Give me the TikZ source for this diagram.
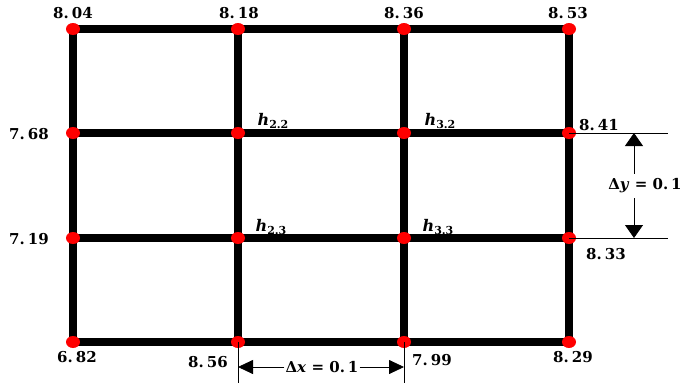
\documentclass[tikz,border=0pt]{standalone}
\usepackage{fontspec}
\setmainfont{DejaVu Serif}
\usetikzlibrary{arrows.meta,shapes.geometric}
\tikzset{
  dot/.style={ellipse,fill=red,minimum width=14pt,minimum height=12pt,inner sep=0pt},
  grid/.style={line width=8pt},
  thin/.style={line width=0.8pt},
  lbl/.style={font=\fontsize{15}{17}\selectfont\bfseries,inner sep=1pt},
  hl/.style={font=\fontsize{16}{18}\selectfont\bfseries,inner sep=1pt},
  dimv/.style={thin,-{Triangle[length=13pt,width=18pt]}},
  dimh/.style={thin,-{Triangle[length=15pt,width=14pt]}},
}
\newcommand{\hsub}[1]{\textit{h}\raisebox{-3pt}{\fontsize{11}{12}\selectfont #1}}
\newcommand{\numv}[2]{#1.\hspace{3pt}#2}
\begin{document}
\begin{tikzpicture}[x=1pt,y=-1pt]
\useasboundingbox (0,0) rectangle (696,383);
% grid nodes
\foreach \c/\xx in {1/73,2/238,3/404,4/569}{
  \foreach \r/\yy in {1/29,2/133,3/238,4/342}{
    \coordinate (p\c\r) at (\xx,\yy);
  }
}
% grid lines
\foreach \r in {1,2,3,4}{\draw[grid] (p1\r) -- (p4\r);}
\foreach \c in {1,2,3,4}{\draw[grid] (p\c1) -- (p\c4);}
% dots
\foreach \c in {1,2,3,4}{
  \foreach \r in {1,2,3,4}{
    \node[dot] (d\c\r) at (p\c\r) {};
  }
}
% extension lines
\coordinate (ey1) at (668,133);
\coordinate (ey2) at (668,238);
\draw[thin] (d42.center) -- (ey1);
\draw[thin] (d43.center) -- (ey2);
\coordinate (ex1) at (238,383);
\coordinate (ex2) at (404,383);
\draw[thin] (d24.center) -- (ex1);
\draw[thin] (d34.center) -- (ex2);
% dimension y
\coordinate (ya) at (634,133);
\coordinate (yb) at (634,238);
\node[lbl,fill=white,inner sep=5pt] (dy) at (645,186) {Δ\textit{y} = \numv{0}{1}};
\draw[dimv] (ya |- dy.north) -- (ya);
\draw[dimv] (yb |- dy.south) -- (yb);
% dimension x
\coordinate (xa) at (238,367);
\coordinate (xb) at (404,367);
\node[lbl,fill=white,inner sep=1pt] (dx) at (322,367) {Δ\textit{x} = \numv{0}{1}};
\draw[dimh] (dx) -- (xa);
\draw[dimh] (dx) -- (xb);
% value labels
\node[lbl] (t1) at (73,13) {\numv{8}{04}};
\node[lbl] (t2) at (239,13) {\numv{8}{18}};
\node[lbl] (t3) at (404,13) {\numv{8}{36}};
\node[lbl] (t4) at (568,13) {\numv{8}{53}};
\node[lbl] (l2) at (29,134) {\numv{7}{68}};
\node[lbl] (l3) at (29,239) {\numv{7}{19}};
\node[lbl] (r2) at (599,125) {\numv{8}{41}};
\node[lbl] (r3) at (606,254) {\numv{8}{33}};
\node[lbl] (b1) at (77,357) {\numv{6}{82}};
\node[lbl] (b2) at (208,362) {\numv{8}{56}};
\node[lbl] (b3) at (432,360) {\numv{7}{99}};
\node[lbl] (b4) at (573,357) {\numv{8}{29}};
% h labels
\node[hl] (h22) at (273,121) {\hsub{2.2}};
\node[hl] (h32) at (440,121) {\hsub{3.2}};
\node[hl] (h23) at (271,227) {\hsub{2.3}};
\node[hl] (h33) at (438,227) {\hsub{3.3}};
\end{tikzpicture}
\end{document}
